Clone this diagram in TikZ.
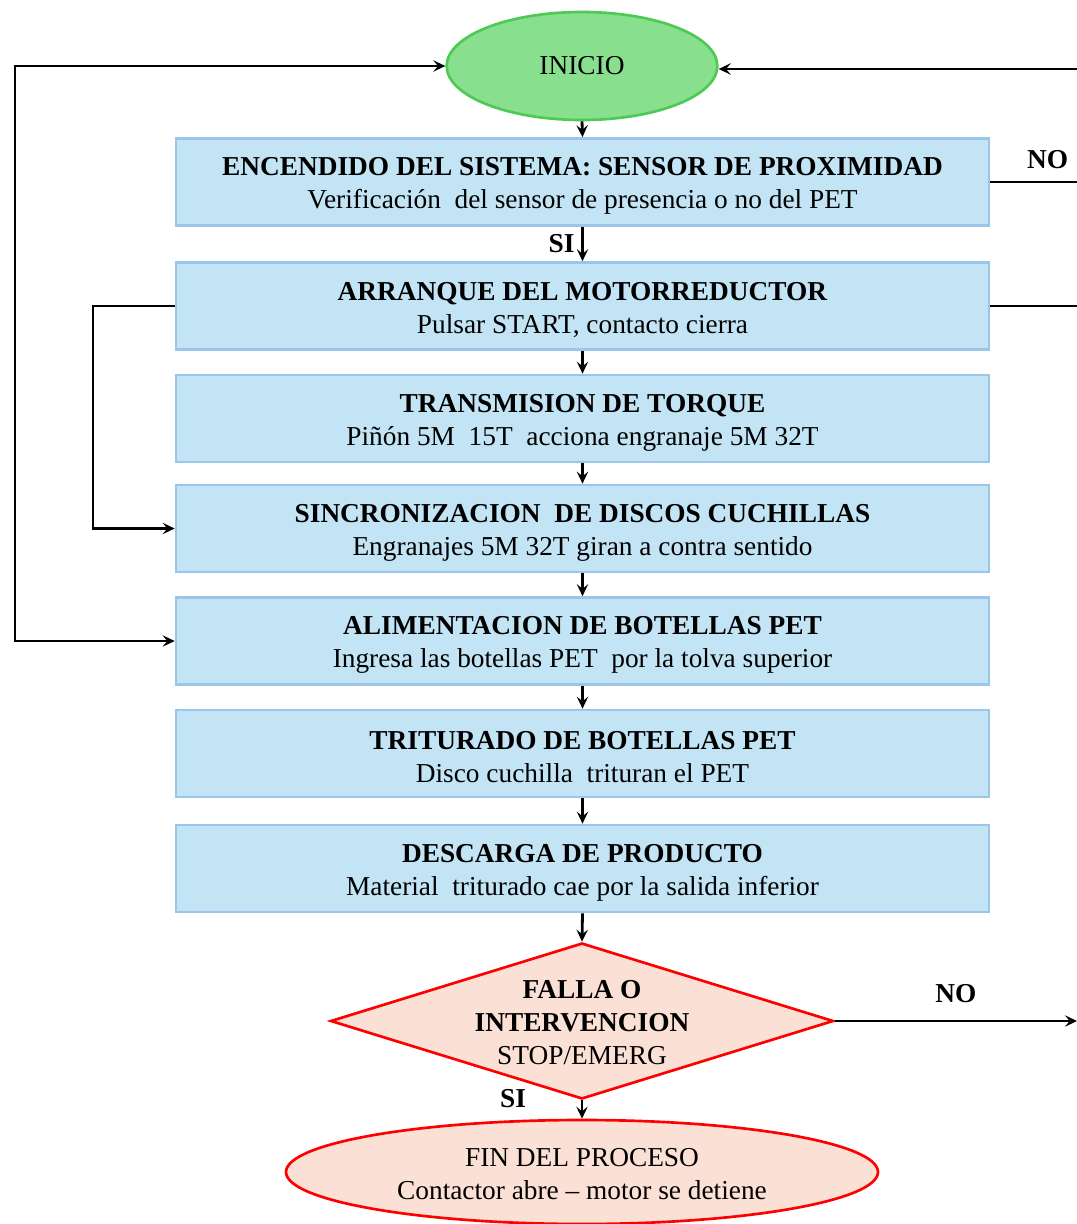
\documentclass[tikz,border=0pt]{standalone}
\usepackage{fontspec}
\setmainfont{Liberation Serif}
\usetikzlibrary{shapes.geometric,arrows.meta}
\definecolor{boxfill}{RGB}{194,228,244}
\definecolor{boxline}{RGB}{157,197,234}
\definecolor{startfill}{RGB}{136,224,143}
\definecolor{startline}{RGB}{77,201,84}
\definecolor{endfill}{RGB}{251,225,213}
\definecolor{endline}{RGB}{255,0,0}
\newcommand{\procstep}[4]{%
  \node[procbox] (#1) at (582.5,#2) {};
  \node[txt, yshift=-3pt] (#1t) at (#1.center) {\textbf{#3}\\#4};
}
\begin{document}
\begin{tikzpicture}[x=0.75pt,y=-0.75pt,
  procbox/.style={draw=boxline, fill=boxfill, line width=2pt, minimum width=609.75pt,
    minimum height=65.25pt, inner sep=0pt},
  conn/.style={line width=2.1pt, black},
  arr/.style={conn, -{Stealth[length=9pt,width=8.5pt,inset=3.5pt]}},
  lbl/.style={font=\fontsize{20.5}{22}\selectfont\bfseries, inner sep=2pt},
  txt/.style={align=center, inner sep=0pt, font=\fontsize{20.5}{24.75}\selectfont}
]
\useasboundingbox (0,0) rectangle (1077,1224);

% start
\node[ellipse, draw=startline, fill=startfill, line width=2pt, minimum width=203pt,
  minimum height=81pt, inner sep=0pt, font=\fontsize{20.5}{22}\selectfont] (inicio) at (582,66) {INICIO};

% process boxes
\procstep{b1}{182}{ENCENDIDO DEL SISTEMA: SENSOR DE PROXIMIDAD}{Verificación\ \ del sensor de presencia o no del PET}
\procstep{b2}{306}{ARRANQUE DEL MOTORREDUCTOR}{Pulsar START, contacto cierra}
\procstep{b3}{418.5}{TRANSMISION DE TORQUE}{Piñón 5M\ \ 15T\ \ acciona engranaje 5M 32T}
\procstep{b4}{528.5}{SINCRONIZACION\ \ DE DISCOS CUCHILLAS}{Engranajes 5M 32T giran a contra sentido}
\procstep{b5}{641}{ALIMENTACION DE BOTELLAS PET}{Ingresa las botellas PET\ \ por la tolva superior}
\procstep{b6}{753.5}{TRITURADO DE BOTELLAS PET}{Disco cuchilla\ \ trituran el PET}
\procstep{b7}{868.5}{DESCARGA DE PRODUCTO}{Material\ \ triturado cae por la salida inferior}

% decision
\node[diamond, draw=endline, fill=endfill, line width=2pt, minimum width=377.25pt,
  minimum height=117pt, inner sep=0pt] (dia) at (582,1021) {};
\node[txt, yshift=-1pt] (diatext) at (dia.center) {\textbf{FALLA O}\\\textbf{INTERVENCION}\\STOP/EMERG};

% end
\node[ellipse, draw=endline, fill=endfill, line width=2pt, minimum width=444pt,
  minimum height=78pt, inner sep=0pt] (fin) at (582,1172) {};
\node[txt, yshift=-1.5pt] (fintext) at (fin.center) {FIN DEL PROCESO\\Contactor abre -- motor se detiene};

% main flow
\draw[arr] (inicio.south) -- (b1.north);
\draw[arr] (b1.south) -- node[lbl, left, pos=0.48, xshift=-3pt] {SI} (b2.north);
\draw[arr] (b2.south) -- (b3.north);
\draw[arr] (b3.south) -- (b4.north);
\draw[arr] (b4.south) -- (b5.north);
\draw[arr] (b5.south) -- (b6.north);
\draw[arr] (b6.south) -- (b7.north);
\draw[arr] (b7.south) -- (dia.north);
\draw[arr] (dia.south) -- (fin.north);
\node[lbl] (si2) at (513,1099) {SI};

% left loops
\coordinate (l1) at (93,306);
\draw[arr] (b2.west) -- (l1) |- (b4.west);
\coordinate (l2) at (15,66);
\draw[conn, {Stealth[length=9pt,width=8.5pt,inset=3.5pt]}-{Stealth[length=9pt,width=8.5pt,inset=3.5pt]}] (inicio.west) -- (l2) |- (b5.west);

% right side
\coordinate (r0) at (1077,69);
\draw[arr] (r0) -- (r0 -| inicio.east);
\coordinate (r1) at (1077,182);
\draw[conn] (b1.east) -- node[lbl, above, pos=0.66, yshift=7pt] {NO} (r1);
\coordinate (r2) at (1077,306);
\draw[conn] (b2.east) -- (r2);
\coordinate (r3) at (1077,1021);
\draw[arr] (dia.east) -- node[lbl, above, pos=0.5, yshift=11pt] {NO} (r3);
\end{tikzpicture}
\end{document}
